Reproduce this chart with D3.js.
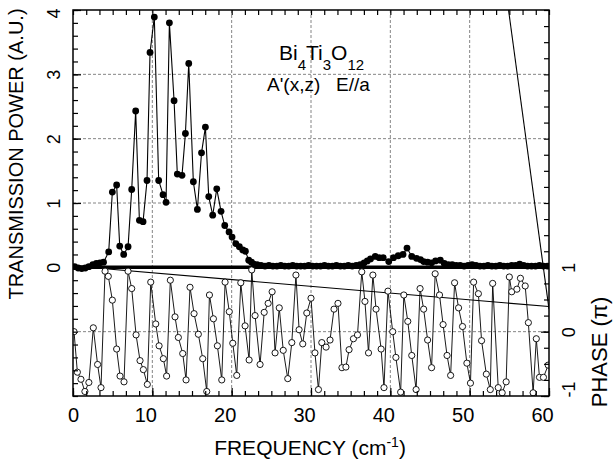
<!DOCTYPE html>
<html><head><meta charset="utf-8">
<script src="https://cdn.jsdelivr.net/npm/d3@7"></script>
<style>
html,body{margin:0;padding:0;background:#fff;}
svg text{font-family:"Liberation Sans",Arial,Helvetica,sans-serif;fill:#000;}
</style></head>
<body><svg id="chart" width="615" height="468"></svg>
<script>
// ---- data ----
const freqT = [
 0.2,0.65,1.1,1.55,2.0,2.5,2.95,3.4,3.85,4.5,
 4.96,5.5,5.89,6.39,6.94,7.4,7.9,8.37,8.83,9.33,
 9.71,10.25,10.8,11.35,11.73,12.15,12.74,13.15,13.74,14.17,
 14.59,15.17,15.68,16.2,16.69,17.11,17.61,18.12,18.66,19.13,
 19.67,20.05,20.52,20.97,21.4,21.73,22.15,22.5,22.8,23.2,
 23.7,24.2,24.7,25.2,25.7,26.2,26.7,27.2,27.7,28.2,
 28.7,29.2,29.7,30.2,30.7,31.2,31.7,32.2,32.7,33.2,
 33.7,34.2,34.7,35.2,35.7,36.2,36.7,37.1,37.5,38.1,
 38.6,39.1,39.8,40.4,41.0,41.6,42.1,42.7,43.3,43.8,
 44.2,44.7,45.2,45.7,46.3,46.8,47.3,47.8,48.3,48.8,
 49.3,49.8,50.3,50.8,51.3,51.8,52.3,52.8,53.3,53.8,
 54.3,54.8,55.3,55.8,56.3,56.8,57.3,57.8,58.3,58.8,
 59.3,59.8
];
const powerT = [
 0.01,-0.01,-0.02,-0.01,0.01,0.04,0.06,0.07,0.08,0.24,
 1.17,1.28,0.33,0.20,0.32,1.21,2.43,0.73,0.71,1.35,
 3.34,3.89,1.35,1.13,1.01,3.80,2.59,1.45,1.43,2.08,
 3.17,1.33,0.90,1.78,2.18,1.10,0.81,1.22,0.87,0.65,
 0.55,0.47,0.37,0.32,0.27,0.25,0.11,0.08,0.05,0.04,
 0.03,0.02,0.03,0.02,0.02,0.03,0.02,0.02,0.03,0.02,
 0.02,0.02,0.03,0.02,0.02,0.02,0.03,0.02,0.02,0.03,
 0.02,0.02,0.03,0.02,0.03,0.04,0.07,0.10,0.13,0.17,
 0.15,0.15,0.09,0.15,0.18,0.20,0.30,0.17,0.14,0.12,
 0.09,0.08,0.07,0.10,0.11,0.06,0.04,0.04,0.03,0.03,
 0.02,0.03,0.04,0.03,0.02,0.02,0.03,0.02,0.02,0.03,
 0.02,0.02,0.03,0.03,0.05,0.03,0.02,0.02,0.02,0.03,
 0.02,0.02
];
const freqP = [
 0.13,0.55,1.0,1.5,2.0,2.56,3.1,3.53,4.04,4.45,
 4.96,5.5,5.93,6.43,6.94,7.4,7.95,8.45,8.87,9.37,
 9.8,10.43,10.85,11.39,11.8,12.27,12.86,13.28,13.83,14.25,
 14.75,15.26,15.8,16.35,16.86,17.2,17.7,18.2,18.75,19.17,
 19.7,20.14,20.64,21.15,21.69,22.2,22.53,22.95,23.58,24.1,
 24.6,25.1,25.47,26.0,26.5,27.07,27.58,28.1,28.5,28.96,
 29.47,30.0,30.5,30.94,31.36,31.9,32.4,32.9,33.4,33.9,
 34.4,34.8,35.35,35.86,36.4,36.8,37.25,37.8,38.2,38.84,
 39.2,39.7,40.3,40.7,41.3,41.7,42.2,42.7,43.25,43.75,
 44.2,44.7,45.2,45.65,46.2,46.65,47.15,47.6,48.1,48.6,
 49.1,49.65,50.1,50.5,51.1,51.5,52.1,52.6,52.9,53.6,
 54.1,54.6,55.0,55.3,55.95,56.4,57.0,57.4,58.0,58.4,
 58.8,59.3,59.9
];
const phaseP = [
 0.0,-0.63,-0.74,-0.93,-0.79,0.06,-0.51,-0.87,0.94,0.86,
 0.49,-0.27,-0.69,-0.78,0.94,0.67,-0.05,-0.45,-0.59,-0.82,
 0.77,0.12,-0.22,-0.42,-0.69,0.8,0.23,-0.09,-0.34,-0.75,
 0.69,0.28,-0.04,-0.42,-0.93,0.57,0.2,-0.22,-0.75,0.77,
 0.31,-0.18,-0.68,0.76,0.09,-0.44,0.96,0.25,-0.51,0.3,
 0.44,0.62,-0.33,0.37,-0.29,-0.73,-0.17,0.88,0.03,-0.19,
 0.29,0.52,-0.33,-0.9,-0.17,-0.24,-0.13,0.35,0.44,-0.56,
 -0.55,-0.28,-0.11,-0.05,0.93,0.47,-0.33,0.88,0.35,-0.27,
 -0.87,0.63,0.0,-0.4,-0.94,0.57,0.16,-0.37,-0.9,0.67,
 0.35,-0.13,-0.56,0.9,0.57,0.11,-0.37,-0.68,0.76,0.37,
 0.08,-0.49,-0.8,0.77,0.59,-0.14,-0.66,-0.9,0.75,-0.87,
 -0.95,-0.78,0.85,0.62,0.66,0.83,0.71,0.14,-0.95,-0.11,
 -0.71,-0.71,-0.52
];
// straight reference lines
const fitFreq = [0, 60];
const fitPhase = [1.02, 0.39];
const steepFreq = [54.9, 60];
const steepPower = [4.0, -0.65];

const xTickLabels = [0, 10, 20, 30, 40, 50, 60];
const yLeftTickLabels = [0, 1, 2, 3, 4];
const yRightTickLabels = [-1, 0, 1];

// ---- layout ----
const L = 73, R = 549, T = 10, B = 396;
const svg = d3.select("#chart");
const x = d3.scaleLinear().domain([0, 60]).range([L, R]);
const yL = d3.scaleLinear().domain([-2, 4]).range([B, T]);
const yP = d3.scaleLinear().domain([-1, 1]).range([B, yL(0)]);
const plain = d => String(d);

svg.append("defs").append("clipPath").attr("id", "clip")
  .append("rect").attr("x", L).attr("y", T).attr("width", R - L).attr("height", B - T);

// grid
const grid = svg.append("g").attr("stroke", "#777").attr("stroke-width", 0.9).attr("stroke-dasharray", "3,2");
[10, 20, 30, 40, 50].forEach(v => grid.append("line").attr("x1", x(v)).attr("x2", x(v)).attr("y1", T).attr("y2", B));
[1, 2, 3].forEach(v => grid.append("line").attr("x1", L).attr("x2", R).attr("y1", yL(v)).attr("y2", yL(v)));
grid.append("line").attr("x1", L).attr("x2", R).attr("y1", yP(0)).attr("y2", yP(0));

// thick zero line
svg.append("line").attr("x1", L).attr("x2", R).attr("y1", yL(0)).attr("y2", yL(0))
  .attr("stroke", "#000").attr("stroke-width", 3.5);

const plot = svg.append("g").attr("clip-path", "url(#clip)");
// fit lines
plot.append("line").attr("x1", x(fitFreq[0])).attr("y1", yP(fitPhase[0]))
  .attr("x2", x(fitFreq[1])).attr("y2", yP(fitPhase[1])).attr("stroke", "#000").attr("stroke-width", 1.1);
plot.append("line").attr("x1", x(steepFreq[0])).attr("y1", yL(steepPower[0]))
  .attr("x2", x(steepFreq[1])).attr("y2", yL(steepPower[1])).attr("stroke", "#000").attr("stroke-width", 1.1);

// phase series
const phaseData = freqP.map((f, i) => [f, phaseP[i]]);
plot.append("path").datum(phaseData)
  .attr("d", d3.line().x(d => x(d[0])).y(d => yP(d[1])))
  .attr("fill", "none").attr("stroke", "#000").attr("stroke-width", 0.9);
plot.selectAll("circle.ph").data(phaseData).join("circle").attr("class", "ph")
  .attr("cx", d => x(d[0])).attr("cy", d => yP(d[1])).attr("r", 3.1)
  .attr("fill", "#fff").attr("stroke", "#000").attr("stroke-width", 0.9);

// transmission series
const powData = freqT.map((f, i) => [f, powerT[i]]);
plot.append("path").datum(powData)
  .attr("d", d3.line().x(d => x(d[0])).y(d => yL(d[1])))
  .attr("fill", "none").attr("stroke", "#000").attr("stroke-width", 1.1);
plot.selectAll("circle.pw").data(powData).join("circle").attr("class", "pw")
  .attr("cx", d => x(d[0])).attr("cy", d => yL(d[1])).attr("r", 3.4).attr("fill", "#000");

// frame
svg.append("rect").attr("x", L).attr("y", T).attr("width", R - L).attr("height", B - T)
  .attr("fill", "none").attr("stroke", "#000").attr("stroke-width", 1.5);

// axes
const tickStyle = g => { g.select(".domain").remove(); g.selectAll("line").attr("stroke", "#000").attr("stroke-width", 1.2); };
const minorX = d3.range(0, 61, 10 / 6);
svg.append("g").attr("transform", `translate(0,${B})`)
  .call(d3.axisBottom(x).tickValues(minorX).tickSize(-5).tickFormat("")).call(tickStyle);
svg.append("g").attr("transform", `translate(0,${T})`)
  .call(d3.axisTop(x).tickValues(minorX).tickSize(-5).tickFormat("")).call(tickStyle);
const xb = svg.append("g").attr("transform", `translate(0,${B})`)
  .call(d3.axisBottom(x).tickValues(xTickLabels).tickSize(-8).tickPadding(12).tickFormat(plain)).call(tickStyle);
xb.selectAll("text").attr("font-size", 20).attr("dx", d => d === 0 ? 0 : -7);

const minorL = d3.range(-2, 4.001, 0.2);
svg.append("g").attr("transform", `translate(${L},0)`)
  .call(d3.axisLeft(yL).tickValues(minorL).tickSize(-5).tickFormat("")).call(tickStyle);
const yl = svg.append("g").attr("transform", `translate(${L},0)`)
  .call(d3.axisLeft(yL).tickValues(yLeftTickLabels).tickSize(-8).tickFormat(plain)).call(tickStyle);
yl.selectAll("text").attr("x", null).attr("dy", null).attr("text-anchor", "middle")
  .attr("font-size", 18).attr("transform", d => `translate(-13,${d === 4 ? 3 : 0}) rotate(-90)`);

const minorR = d3.range(-2, 4.001, 0.25);
svg.append("g").attr("transform", `translate(${R},0)`)
  .call(d3.axisRight(yL).tickValues(minorR).tickSize(-5).tickFormat("")).call(tickStyle);
const yr = svg.append("g").attr("transform", `translate(${R},0)`)
  .call(d3.axisRight(yP).tickValues(yRightTickLabels).tickSize(-8).tickFormat(plain)).call(tickStyle);
yr.selectAll("text").attr("x", null).attr("dy", null).attr("text-anchor", "middle")
  .attr("font-size", 18).attr("transform", d => `translate(26,${d === -1 ? -7 : 0}) rotate(-90)`);

// axis titles
svg.append("text").attr("text-anchor", "middle").attr("font-size", 20)
  .attr("transform", "translate(23,154) rotate(-90)").text("TRANSMISSION POWER (A.U.)");
svg.append("text").attr("text-anchor", "middle").attr("font-size", 22)
  .attr("transform", "translate(607,352) rotate(-90)").text("PHASE (π)");
const xt = svg.append("text").attr("x", 310).attr("y", 455).attr("text-anchor", "middle").attr("font-size", 21);
xt.append("tspan").text("FREQUENCY (cm");
xt.append("tspan").attr("font-size", 14).attr("dy", -8).text("-1");
xt.append("tspan").attr("dy", 8).text(")");

// annotation
const t1 = svg.append("text").attr("x", 279).attr("y", 60).attr("font-size", 21);
t1.append("tspan").text("Bi");
t1.append("tspan").attr("font-size", 15).attr("dy", 10).text("4");
t1.append("tspan").attr("dy", -10).text("Ti");
t1.append("tspan").attr("font-size", 15).attr("dy", 10).text("3");
t1.append("tspan").attr("dy", -10).text("O");
t1.append("tspan").attr("font-size", 15).attr("dy", 10).text("12");
svg.append("text").attr("x", 267).attr("y", 91).attr("font-size", 19).attr("xml:space", "preserve")
  .text("A'(x,z)   E//a");
</script></body></html>
